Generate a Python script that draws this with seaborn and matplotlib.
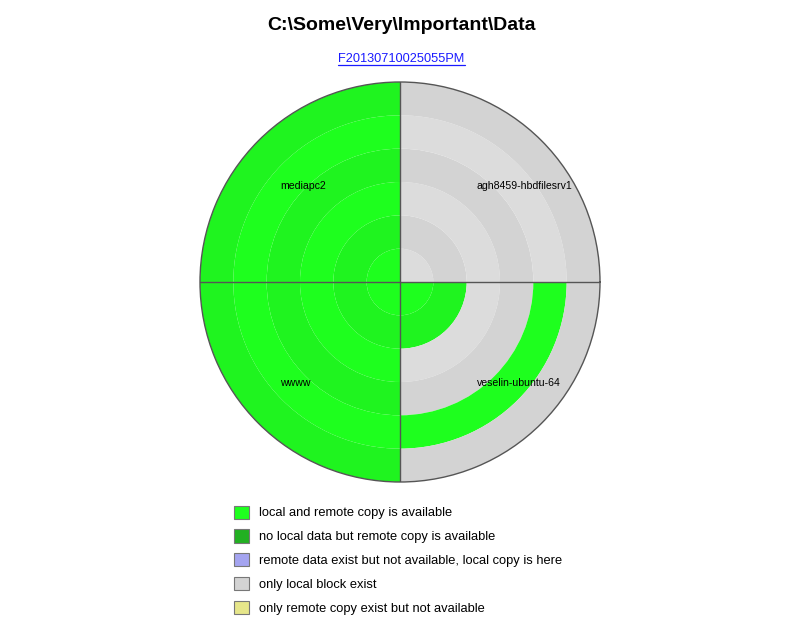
import numpy as np
import matplotlib.pyplot as plt
import seaborn as sns
from matplotlib.patches import Patch
from matplotlib.lines import Line2D

title = "C:\\Some\\Very\\Important\\Data"
subtitle = "F20130710025055PM"

# quadrants counter-clockwise from east
nodes = ["agh8459-hbdfilesrv1", "mediapc2", "wwww", "veselin-ubuntu-64"]
# block state per ring, inner -> outer
rings_agh = ["local", "local", "local", "local", "local", "local"]
rings_mediapc2 = ["both", "both", "both", "both", "both", "both"]
rings_wwww = ["both", "both", "both", "both", "both", "both"]
rings_veselin = ["both", "both", "local", "local", "both", "local"]
node_rings = [rings_agh, rings_mediapc2, rings_wwww, rings_veselin]

states = ["both", "remote_only", "remote_missing", "local", "missing"]
state_labels = [
    "local and remote copy is available",
    "no local data but remote copy is available",
    "remote data exist but not available, local copy is here",
    "only local block exist",
    "only remote copy exist but not available",
]

state_colors = {
    "both": "#1eff1e",
    "remote_only": "#22b022",
    "remote_missing": "#a4a4f0",
    "local": "#d3d3d3",
    "missing": "#e6e68a",
}
# alternate rings get slightly different shade
ring_shade = {
    "both": ("#1eff1e", "#1ff41f"),
    "remote_only": ("#22b022", "#20a820"),
    "remote_missing": ("#a4a4f0", "#9e9ee8"),
    "local": ("#dcdcdc", "#d3d3d3"),
    "missing": ("#e6e68a", "#dede84"),
}

sns.set_style("white")
plt.rcParams['font.family'] = ['Liberation Sans', 'DejaVu Sans']
plt.rcParams['text.color'] = 'black'

fig = plt.figure(figsize=(8.03, 6.34), dpi=100)
ax = fig.add_axes([200 / 803, 1 - 482 / 634, 400 / 803, 400 / 634], projection="polar")

n_rings = len(rings_agh)
for q, rings in enumerate(node_rings):
    theta = np.pi / 4 + q * np.pi / 2
    for i, st in enumerate(rings):
        col = ring_shade[st][i % 2]
        ax.bar(theta, 1, width=np.pi / 2, bottom=i, color=col, linewidth=0, align="center")

for a in [0, np.pi / 2, np.pi, 3 * np.pi / 2]:
    ax.plot([a, a], [0, n_rings], color="#555555", lw=1)

ax.set_ylim(0, n_rings)
ax.set_xticks([])
ax.set_yticks([])
ax.grid(False)
ax.spines["polar"].set_color("#555555")
ax.spines["polar"].set_linewidth(1)

# labels, left aligned (cartesian offsets in radius units)
label_xy = [(0.385, 0.48), (-0.6, 0.48), (-0.6, -0.505), (0.385, -0.505)]
for name, (x, y) in zip(nodes, label_xy):
    th = np.arctan2(y, x)
    r = np.hypot(x, y) * n_rings
    ax.text(th, r, name, ha="left", va="center", fontsize=7.6, color="black")

fig.text(0.5, 1 - 25 / 634, title, ha="center", va="center", fontsize=14, fontweight="bold")
sub = fig.text(0.5, 1 - 59.5 / 634, subtitle, ha="center", va="center", fontsize=9.2, color="#1a1aff")

fig.canvas.draw()
bb = sub.get_window_extent(fig.canvas.get_renderer())
bb = bb.transformed(fig.transFigure.inverted())
fig.add_artist(Line2D([bb.x0, bb.x1], [bb.y0 + 0.001, bb.y0 + 0.001], color="#1a1aff", lw=0.9,
                      transform=fig.transFigure))

handles = [Patch(facecolor=state_colors[s], edgecolor="#777777", linewidth=0.8) for s in states]
fig.legend(handles, state_labels, loc="upper left", bbox_to_anchor=(234 / 803, 1 - 505.5 / 634),
           frameon=False, fontsize=9.3, handlelength=1.2, handleheight=1.2, handletextpad=0.7,
           labelspacing=0.76, borderpad=0, borderaxespad=0, labelcolor="black")

fig.savefig("out.png", dpi=100)
